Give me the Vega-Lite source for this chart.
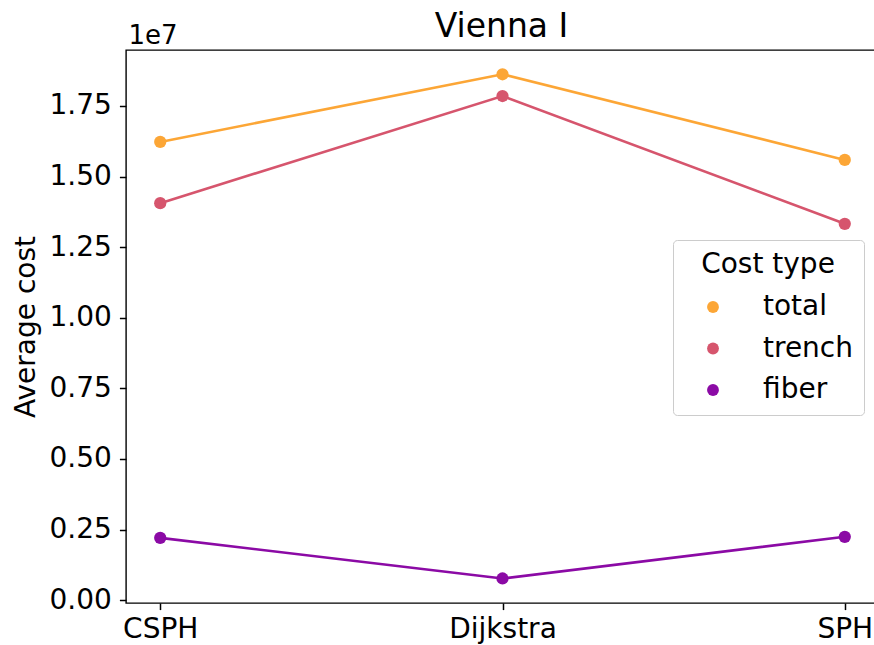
{
  "$schema": "https://vega.github.io/schema/vega-lite/v6.json",
  "autosize": {"type": "none"},
  "padding": {"left": 126, "top": 50, "right": 0, "bottom": 42},
  "width": 753,
  "height": 553,
  "config": {
    "font": "DejaVu Sans",
    "view": {"stroke": "black", "strokeWidth": 1.4},
    "axis": {
      "labelFont": "DejaVu Sans",
      "titleFont": "DejaVu Sans",
      "labelColor": "black",
      "titleColor": "black",
      "tickColor": "black",
      "grid": false,
      "domain": false
    },
    "legend": {"labelFont": "DejaVu Sans", "titleFont": "DejaVu Sans"}
  },
  "data": {
    "values": [
      {"method": "CSPH", "type": "total", "cost": 16226000},
      {"method": "Dijkstra", "type": "total", "cost": 18620000},
      {"method": "SPH", "type": "total", "cost": 15588000},
      {"method": "CSPH", "type": "trench", "cost": 14057000},
      {"method": "Dijkstra", "type": "trench", "cost": 17850000},
      {"method": "SPH", "type": "trench", "cost": 13325000},
      {"method": "CSPH", "type": "fiber", "cost": 2207000},
      {"method": "Dijkstra", "type": "fiber", "cost": 768000},
      {"method": "SPH", "type": "fiber", "cost": 2243000}
    ]
  },
  "encoding": {
    "y": {
      "field": "cost",
      "type": "quantitative",
      "scale": {"domain": [-100000, 19480000], "nice": false, "zero": false},
      "axis": {
        "values": [0, 2500000, 5000000, 7500000, 10000000, 12500000, 15000000, 17500000],
        "labelExpr": "format(datum.value / 10000000, '.2f')",
        "labelFontSize": 28,
        "labelPadding": 8,
        "tickSize": 6.6,
        "tickWidth": 1.5,
        "title": "Average cost",
        "titleFontSize": 28,
        "titleFontWeight": "normal",
        "titlePadding": 9
      }
    },
    "color": {
      "field": "type",
      "type": "nominal",
      "scale": {"domain": ["total", "trench", "fiber"], "range": ["#fca636", "#d6556d", "#8b0aa5"]},
      "legend": {
        "title": "Cost type",
        "orient": "none",
        "legendX": 547,
        "legendY": 190,
        "direction": "vertical",
        "symbolType": "circle",
        "symbolSize": 140,
        "symbolStrokeWidth": 0,
        "symbolOpacity": 1,
        "symbolOffset": 15,
        "labelOffset": 36,
        "labelFontSize": 28,
        "labelColor": "black",
        "titleFontSize": 28,
        "titleFontWeight": "normal",
        "titleColor": "black",
        "titleAnchor": "middle",
        "titlePadding": 14,
        "rowPadding": 13.5,
        "padding": 11,
        "cornerRadius": 4,
        "strokeColor": "#cccccc",
        "fillColor": "white"
      }
    }
  },
  "layer": [
    {
      "mark": {"type": "line", "strokeWidth": 2.6},
      "encoding": {
        "x": {
          "field": "method",
          "type": "nominal",
          "sort": ["CSPH", "Dijkstra", "SPH"],
          "scale": {"type": "point", "padding": 0.1},
          "axis": {
            "orient": "bottom",
            "labelAngle": 0,
            "labelFontSize": 28,
            "labelPadding": 6,
            "tickSize": 6.6,
            "tickWidth": 1.5,
            "title": "1e7",
            "titleFontSize": 26,
            "titleFontWeight": "normal",
            "titleAlign": "left",
            "titleBaseline": "alphabetic",
            "titleAnchor": "start",
            "titleX": 2,
            "titleY": -560
          }
        }
      }
    },
    {
      "mark": {"type": "point", "filled": true, "size": 150, "opacity": 1},
      "encoding": {
        "x": {
          "field": "method",
          "type": "nominal",
          "sort": ["CSPH", "Dijkstra", "SPH"],
          "scale": {"type": "point", "padding": 0.1},
          "axis": {
            "orient": "top",
            "labels": false,
            "ticks": false,
            "title": "Vienna I",
            "titleFontSize": 33,
            "titleFontWeight": "normal",
            "titleAlign": "center",
            "titleBaseline": "alphabetic",
            "titleX": 375,
            "titleY": -14
          }
        }
      }
    }
  ],
  "resolve": {"scale": {"x": "independent"}, "axis": {"x": "independent"}}
}
